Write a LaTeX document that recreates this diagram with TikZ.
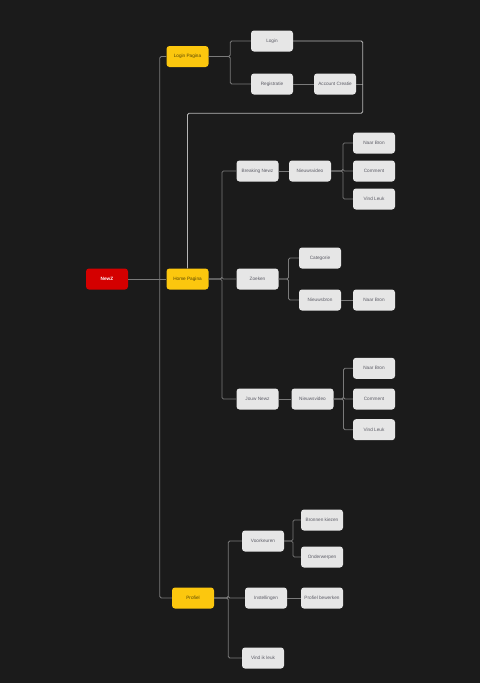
\documentclass[tikz,border=0pt]{standalone}
\usepackage{fontspec}
\setmainfont{Liberation Sans}
\definecolor{achter}{HTML}{1B1B1B}
\definecolor{kaart}{HTML}{E6E6E6}
\definecolor{tekst}{HTML}{5C5C66}
\definecolor{geel}{HTML}{FCC70E}
\definecolor{rood}{HTML}{D40000}
\definecolor{lijn}{HTML}{7A7A7A}
\tikzset{
  kaartje/.style={fill=kaart,rounded corners=3pt,minimum width=42pt,minimum height=21pt,
    inner sep=0pt,font=\fontsize{4.7}{5}\selectfont,text=tekst},
  geelkaartje/.style={kaartje,fill=geel,text=black!65!geel},
  roodkaartje/.style={kaartje,fill=rood,text=white,font=\fontsize{4.7}{5}\selectfont\bfseries},
  lijntje/.style={draw=lijn,line width=0.8pt,rounded corners=1.5pt},
}
\begin{document}
\begin{tikzpicture}[x=1pt,y=-1pt]
          \fill[achter] (0,0) rectangle (480,683);
          \useasboundingbox (0,0) rectangle (480,683);
          % hoofdknopen
          \node[roodkaartje] (newz) at (107,279) {NewZ};
          \node[geelkaartje] (loginpagina) at (187.5,56.5) {Login Pagina};
          \node[geelkaartje] (homepagina) at (187.5,279) {Home Pagina};
          \node[geelkaartje] (profiel) at (193,598) {Profiel};
          % overige knopen
          \foreach \naam/\x/\y/\label in {login/272/41/Login, registratie/272/84/Registratie,
              accountcreatie/335/84/Account Creatie,
              breakingnewz/257.5/171/Breaking Newz, videoa/310/171/Nieuwsvideo,
              bronna/374/143/Naar Bron, commenta/374/171/Comment, leuka/374/199/Vind Leuk,
              zoeken/257.5/279/Zoeken, categorie/320/258/Categorie,
              nieuwsbron/320/300/Nieuwsbron, bronnb/374/300/Naar Bron,
              jouwnewz/257.5/399/Jouw Newz, videob/312.5/399/Nieuwsvideo,
              bronnc/374/368.3/Naar Bron, commentc/374/399/Comment, leukc/374/429.7/Vind Leuk,
              voorkeuren/263/541/Voorkeuren, bronnenkiezen/322/520/Bronnen kiezen,
              onderwerpen/322/557/Onderwerpen, instellingen/266/598/Instellingen,
              profielbewerken/322/598/Profiel bewerken, vindikleuk/263/658/Vind ik leuk}{
            \node[kaartje] (\naam) at (\x,\y) {\label};
          }
          % verbindingen
          \draw[lijntje] (newz.east) -- (homepagina.west);
          \draw[lijntje] (loginpagina.west) -- ++(-6.5,0) |- (profiel.west);
          \draw[lijntje] (loginpagina.east) -- ++(21.5,0) |- (login.west);
          \draw[lijntje] (loginpagina.east) -- ++(21.5,0) |- (registratie.west);
          \draw[lijntje] (registratie) -- (accountcreatie);
          \coordinate (terug) at (362.7,113.3);
          \draw[lijntje] (accountcreatie.east) -- (accountcreatie.east -| terug);
          \draw[lijntje,draw=lijn!55!white] (login.east) -| (terug) -| (homepagina.north);
          \foreach \doel in {breakingnewz,zoeken,jouwnewz}{
            \draw[lijntje] (homepagina.east) -- ++(13.2,0) |- (\doel.west);
          }
          \draw[lijntje] (breakingnewz) -- (videoa);
          \draw[lijntje] (jouwnewz) -- (videob);
          \foreach \doel in {bronna,commenta,leuka}{
            \draw[lijntje] (videoa.east) -- ++(11.7,0) |- (\doel.west);
          }
          \foreach \doel in {bronnc,commentc,leukc}{
            \draw[lijntje] (videob.east) -- ++(9.8,0) |- (\doel.west);
          }
          \foreach \doel in {categorie,nieuwsbron}{
            \draw[lijntje] (zoeken.east) -- ++(9.8,0) |- (\doel.west);
          }
          \draw[lijntje] (nieuwsbron) -- (bronnb);
          \foreach \doel in {voorkeuren,instellingen,vindikleuk}{
            \draw[lijntje] (profiel.east) -- ++(14,0) |- (\doel.west);
          }
          \foreach \doel in {bronnenkiezen,onderwerpen}{
            \draw[lijntje] (voorkeuren.east) -- ++(8.7,0) |- (\doel.west);
          }
          \draw[lijntje] (instellingen) -- (profielbewerken);
        \end{tikzpicture}
\end{document}
